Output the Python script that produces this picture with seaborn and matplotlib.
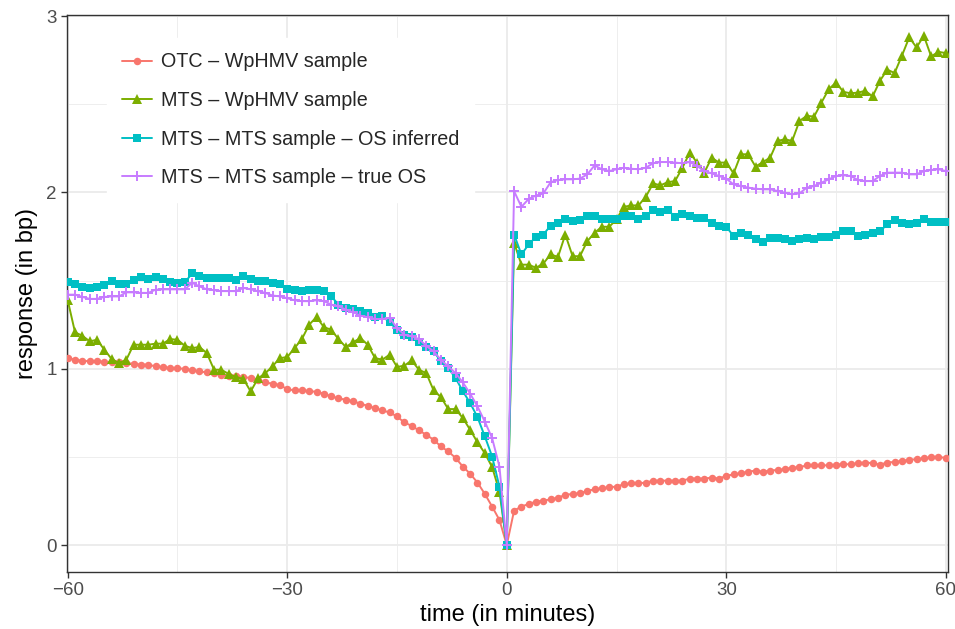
import numpy as np
import pandas as pd
import matplotlib
matplotlib.use("Agg")
import matplotlib.pyplot as plt
import seaborn as sns

# time grid in minutes around the event
minutes = list(range(-60, 61))

otc_wphmv = [
    1.061, 1.051, 1.045, 1.042, 1.042, 1.040, 1.036, 1.036, 1.032, 1.028,
    1.023, 1.023, 1.013, 1.010, 1.004, 1.004, 0.998, 0.991, 0.985, 0.979,
    0.975, 0.966, 0.960, 0.957, 0.953, 0.947, 0.934, 0.922, 0.915, 0.907,
    0.884, 0.877, 0.877, 0.873, 0.869, 0.858, 0.843, 0.832, 0.824, 0.816,
    0.801, 0.790, 0.776, 0.763, 0.752, 0.729, 0.695, 0.676, 0.650, 0.625,
    0.597, 0.559, 0.531, 0.494, 0.445, 0.404, 0.354, 0.290, 0.218, 0.142,
    0.0,
    0.195, 0.218, 0.233, 0.246, 0.252, 0.259, 0.269, 0.284, 0.290, 0.294,
    0.307, 0.316, 0.322, 0.328, 0.331, 0.345, 0.350, 0.350, 0.354, 0.365,
    0.365, 0.365, 0.365, 0.365, 0.377, 0.377, 0.377, 0.382, 0.377, 0.392,
    0.401, 0.407, 0.416, 0.422, 0.416, 0.422, 0.426, 0.430, 0.439, 0.441,
    0.452, 0.452, 0.452, 0.452, 0.456, 0.458, 0.458, 0.464, 0.468, 0.464,
    0.456, 0.468, 0.471, 0.477, 0.483, 0.487, 0.492, 0.498, 0.502, 0.492,
]

mts_wphmv = [
    1.388, 1.206, 1.187, 1.155, 1.164, 1.108, 1.055, 1.032, 1.050, 1.136,
    1.136, 1.136, 1.142, 1.142, 1.168, 1.164, 1.130, 1.117, 1.123, 1.089,
    0.994, 0.994, 0.970, 0.953, 0.942, 0.871, 0.945, 0.974, 1.015, 1.060,
    1.066, 1.117, 1.168, 1.250, 1.293, 1.236, 1.221, 1.168, 1.123, 1.150,
    1.174, 1.136, 1.060, 1.051, 1.080, 1.010, 1.017, 1.047, 0.994, 0.975,
    0.877, 0.839, 0.771, 0.771, 0.720, 0.653, 0.582, 0.521, 0.442, 0.303,
    0.0,
    1.714, 1.590, 1.590, 1.572, 1.597, 1.648, 1.634, 1.761, 1.638, 1.638,
    1.723, 1.771, 1.805, 1.805, 1.847, 1.918, 1.926, 1.926, 1.975, 2.051,
    2.040, 2.058, 2.064, 2.140, 2.225, 2.169, 2.112, 2.197, 2.169, 2.169,
    2.108, 2.216, 2.216, 2.146, 2.172, 2.197, 2.292, 2.301, 2.292, 2.405,
    2.434, 2.430, 2.509, 2.585, 2.623, 2.570, 2.562, 2.566, 2.576, 2.544,
    2.633, 2.696, 2.677, 2.775, 2.879, 2.822, 2.888, 2.771, 2.797, 2.790,
]

mts_os_inferred = [
    1.490, 1.483, 1.464, 1.458, 1.464, 1.472, 1.496, 1.483, 1.483, 1.505,
    1.520, 1.510, 1.520, 1.510, 1.490, 1.487, 1.490, 1.540, 1.525, 1.515,
    1.515, 1.515, 1.515, 1.505, 1.525, 1.510, 1.500, 1.496, 1.487, 1.478,
    1.453, 1.445, 1.439, 1.449, 1.445, 1.439, 1.411, 1.364, 1.345, 1.339,
    1.326, 1.316, 1.293, 1.297, 1.263, 1.221, 1.193, 1.180, 1.150, 1.123,
    1.098, 1.042, 1.004, 0.947, 0.872, 0.805, 0.725, 0.616, 0.502, 0.331,
    0.0,
    1.761, 1.648, 1.705, 1.748, 1.761, 1.812, 1.824, 1.847, 1.837, 1.843,
    1.866, 1.866, 1.850, 1.847, 1.850, 1.866, 1.866, 1.847, 1.866, 1.900,
    1.888, 1.900, 1.862, 1.875, 1.866, 1.856, 1.856, 1.824, 1.809, 1.805,
    1.752, 1.767, 1.756, 1.733, 1.718, 1.742, 1.742, 1.737, 1.723, 1.733,
    1.742, 1.733, 1.748, 1.748, 1.761, 1.780, 1.780, 1.752, 1.761, 1.771,
    1.780, 1.818, 1.843, 1.824, 1.818, 1.828, 1.847, 1.831, 1.831, 1.831,
]

mts_true_os = [
    1.420, 1.420, 1.407, 1.396, 1.396, 1.407, 1.410, 1.410, 1.433, 1.433,
    1.430, 1.430, 1.448, 1.450, 1.450, 1.450, 1.450, 1.487, 1.467, 1.450,
    1.445, 1.440, 1.440, 1.440, 1.458, 1.450, 1.440, 1.430, 1.415, 1.410,
    1.400, 1.388, 1.383, 1.383, 1.388, 1.383, 1.364, 1.354, 1.335, 1.320,
    1.301, 1.293, 1.282, 1.282, 1.288, 1.231, 1.193, 1.184, 1.168, 1.130,
    1.098, 1.051, 1.013, 0.975, 0.922, 0.858, 0.786, 0.700, 0.606, 0.445,
    0.0,
    2.007, 1.918, 1.963, 1.982, 1.994, 2.058, 2.070, 2.074, 2.074, 2.078,
    2.102, 2.153, 2.131, 2.121, 2.131, 2.140, 2.134, 2.131, 2.140, 2.165,
    2.172, 2.172, 2.169, 2.165, 2.172, 2.150, 2.121, 2.108, 2.093, 2.078,
    2.045, 2.036, 2.027, 2.021, 2.017, 2.017, 2.008, 1.998, 1.989, 1.994,
    2.027, 2.036, 2.055, 2.074, 2.093, 2.097, 2.093, 2.070, 2.064, 2.064,
    2.093, 2.112, 2.112, 2.112, 2.102, 2.102, 2.121, 2.127, 2.131, 2.121,
]

series_labels = [
    "OTC \u2013 WpHMV sample",
    "MTS \u2013 WpHMV sample",
    "MTS \u2013 MTS sample \u2013 OS inferred",
    "MTS \u2013 MTS sample \u2013 true OS",
]
x_ticks = [-60, -30, 0, 30, 60]
x_tick_labels = ["\u221260", "\u221230", "0", "30", "60"]
y_ticks = [0, 1, 2, 3]

series_values = [otc_wphmv, mts_wphmv, mts_os_inferred, mts_true_os]
colors = ["#F8766D", "#7CAE00", "#00BFC4", "#C77CFF"]
markers = ["o", "^", "s", "+"]
msizes = [5.4, 7.4, 5.8, 7.6]

frames = []
for lab, vals in zip(series_labels, series_values):
    frames.append(pd.DataFrame({"time": minutes, "response": vals, "series": lab}))
df = pd.concat(frames, ignore_index=True)

sns.set_style("white")
plt.rcParams["font.family"] = ["Liberation Sans", "DejaVu Sans"]

fig = plt.figure(figsize=(9.55, 6.29), dpi=100)
ax = fig.add_axes([67 / 955, 1 - 572 / 629, (948 - 67) / 955, (572 - 15) / 629])

# ggplot-like grid: minor lines thinner than major lines
for v in [-45, -15, 15, 45]:
    ax.axvline(v, color="#EBEBEB", lw=0.6, zorder=0)
for v in [0.5, 1.5, 2.5]:
    ax.axhline(v, color="#EBEBEB", lw=0.6, zorder=0)
for v in x_ticks:
    ax.axvline(v, color="#EBEBEB", lw=1.3, zorder=0)
for v in y_ticks:
    ax.axhline(v, color="#EBEBEB", lw=1.3, zorder=0)

for lab, col, mk, ms in zip(series_labels, colors, markers, msizes):
    sub = df[df["series"] == lab]
    sns.lineplot(data=sub, x="time", y="response", color=col, marker=mk,
                 markersize=ms, markeredgecolor=col,
                 markeredgewidth=1.4 if mk == "+" else 0.0,
                 linewidth=1.4, label=lab, ax=ax, zorder=3)

ax.set_xlim(-60.1, 60.3)
ax.set_ylim(-0.153, 3.006)
ax.set_xticks(x_ticks)
ax.set_xticklabels(x_tick_labels)
ax.set_yticks(y_ticks)
ax.tick_params(axis="both", direction="out", length=4.4, width=1.0,
               color="#333333", labelcolor="#4D4D4D", labelsize=13.5, pad=3,
               bottom=True, left=True)
for s in ax.spines.values():
    s.set_color("#333333")
    s.set_linewidth(1.0)
ax.set_xlabel("time (in minutes)", fontsize=17, color="black", labelpad=3.5)
ax.set_ylabel("response (in bp)", fontsize=17, color="black", labelpad=6)

leg = ax.legend(loc="upper left", bbox_to_anchor=(0.0454, 0.9593), frameon=True,
                fontsize=14.2, labelspacing=0.99, handlelength=1.55,
                handletextpad=0.42, borderpad=0.75, borderaxespad=0.0,
                fancybox=False)
leg.get_frame().set_facecolor("white")
leg.get_frame().set_edgecolor("white")
leg.get_frame().set_alpha(1.0)

fig.savefig("out.png", dpi=100)
